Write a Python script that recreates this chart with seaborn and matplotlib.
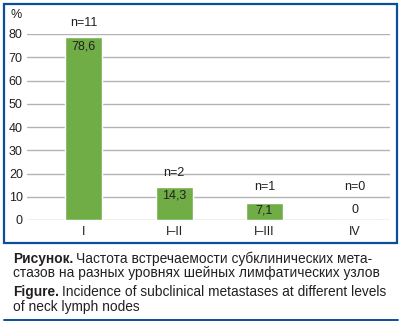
import matplotlib
matplotlib.use("Agg")
import matplotlib.pyplot as plt
import seaborn as sns
import pandas as pd
from matplotlib.patches import Rectangle
from matplotlib.lines import Line2D

# Data
levels = ["I", "I–II", "I–III", "IV"]
percent = [78.6, 14.3, 7.1, 0.0]
counts = [11, 2, 1, 0]
yticks = [0, 10, 20, 30, 40, 50, 60, 70, 80]

GREEN = "#70AD47"
GRID = "#B3B3B3"
FRAME = "#0A4F9C"
TEXT = "#231F20"

sns.set_theme(style="white")
plt.rcParams["font.family"] = ["Liberation Sans", "DejaVu Sans"]

df = pd.DataFrame({"level": levels, "percent": percent})

fig = plt.figure(figsize=(4.02, 3.24), dpi=100)
ax = fig.add_axes([27 / 402, 1 - 220 / 324, 363 / 402, 186 / 324])

sns.barplot(data=df, x="level", y="percent", color=GREEN, saturation=1,
            width=0.41, ax=ax, zorder=3)

ax.set_xlim(-0.63, 3.39)
ax.set_ylim(0, 80)
ax.set_yticks(yticks)
ax.yaxis.grid(True, color=GRID, linewidth=1.0, zorder=0)
ax.set_axisbelow(True)
for s in ax.spines.values():
    s.set_visible(False)
ax.set_xlabel("")
ax.set_ylabel("")
ax.tick_params(axis="y", length=0, pad=3, labelsize=9, labelcolor=TEXT)
ax.tick_params(axis="x", length=0, pad=4, labelsize=9, labelcolor=TEXT)


def fmt(v):
    return "0" if v == 0 else f"{v:.1f}".replace(".", ",")


# Value and count labels
for i, (v, n) in enumerate(zip(percent, counts)):
    vy = max(v - 3.9, 4.3)
    ax.text(i, vy, fmt(v), ha="center", va="center", fontsize=9, color=TEXT, zorder=4)
    ax.annotate(f"n={n}", (i, vy), xytext=(0, 16.5), textcoords="offset points",
                ha="center", va="center", fontsize=9, color=TEXT, zorder=4)

fig.text(16 / 402, 1 - 15 / 324, "%", ha="center", va="center", fontsize=9, color=TEXT)

# Frame around the chart and rule under the caption
fig.patches.append(Rectangle((4 / 402, 1 - 243 / 324), 393 / 402, 239 / 324,
                             transform=fig.transFigure, fill=False,
                             edgecolor=FRAME, linewidth=1.6))
fig.lines.append(Line2D([4 / 402, 398 / 402], [1 - 320 / 324] * 2,
                        transform=fig.transFigure, color=FRAME, linewidth=1.4))

# Caption
cap_size = 9.9
x0 = 13 / 402
fig.canvas.draw()


def caption_line(y, bold, rest):
    yy = 1 - y / 324
    xx = x0
    if bold:
        t = fig.text(xx, yy, bold, fontsize=cap_size, fontweight="bold",
                     color=TEXT, va="center")
        fig.canvas.draw()
        xx += t.get_window_extent().width / fig.bbox.width + 3 / 402
    fig.text(xx, yy, rest, fontsize=cap_size, color=TEXT, va="center")


caption_line(259, "Рисунок.", "Частота встречаемости субклинических мета-")
caption_line(273, None, "стазов на разных уровнях шейных лимфатических узлов")
caption_line(292, "Figure.", "Incidence of subclinical metastases at different levels")
caption_line(307, None, "of neck lymph nodes")

fig.savefig("out.png", dpi=100)
